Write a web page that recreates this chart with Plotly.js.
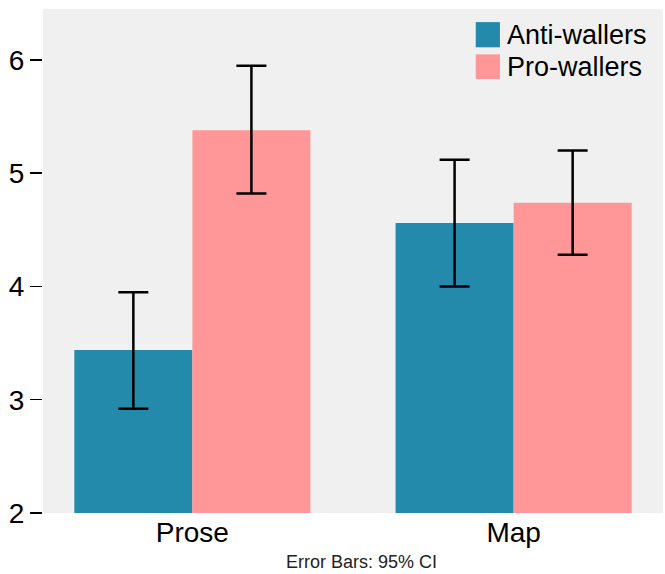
<!DOCTYPE html>
<html>
<head>
<meta charset="utf-8">
<script src="https://cdn.plot.ly/plotly-3.0.1.min.js"></script>
<style>
html,body{margin:0;padding:0;background:#fff;}
#chart{width:665px;height:574px;}
</style>
</head>
<body>
<div id="chart"></div>
<script>
var categories = ["Prose", "Map"];
var seriesNames = ["Anti-wallers", "Pro-wallers"];
var antiMeans = [3.44, 4.56];
var antiUpper = [3.95, 5.12];
var antiLower = [2.92, 4.00];
var proMeans = [5.38, 4.74];
var proUpper = [5.95, 5.20];
var proLower = [4.82, 4.28];
var yTicks = [2, 3, 4, 5, 6];
var colors = ["#248AAB", "#FF9798"];
var footnote = "Error Bars: 95% CI";

function plus(m, u){ return m.map(function(v,i){ return u[i]-v; }); }
function minus(m, l){ return m.map(function(v,i){ return v-l[i]; }); }

function barTrace(name, means, up, lo, color){
  return {
    type: "bar",
    name: name,
    x: categories,
    y: means,
    marker: {color: color, line: {width: 0}},
    error_y: {
      type: "data", symmetric: false,
      array: plus(means, up), arrayminus: minus(means, lo),
      color: "#000", thickness: 2.5, width: 15
    },
    showlegend: false,
    hoverinfo: "skip"
  };
}

var data = [
  barTrace(seriesNames[0], antiMeans, antiUpper, antiLower, colors[0]),
  barTrace(seriesNames[1], proMeans, proUpper, proLower, colors[1])
];

var font = "'Liberation Sans', Arial, sans-serif";

var shapes = [
  {type:"rect", xref:"paper", yref:"paper", x0:0.698, x1:0.737, y0:0.924, y1:0.974, fillcolor:colors[0], line:{width:0}},
  {type:"rect", xref:"paper", yref:"paper", x0:0.698, x1:0.737, y0:0.861, y1:0.910, fillcolor:colors[1], line:{width:0}}
];
var annotations = [
  {xref:"paper", yref:"paper", x:0.745, y:0.948, xanchor:"left", yanchor:"middle", text:seriesNames[0], showarrow:false, font:{family:font, size:27, color:"#000"}},
  {xref:"paper", yref:"paper", x:0.745, y:0.884, xanchor:"left", yanchor:"middle", text:seriesNames[1], showarrow:false, font:{family:font, size:27, color:"#000"}},
  {xref:"paper", yref:"paper", x:0.513, y:-0.097, xanchor:"center", yanchor:"middle", borderpad:0, text:footnote, showarrow:false, font:{family:font, size:18, color:"#222"}}
];

var layout = {
  width: 665, height: 574,
  margin: {l:43, r:2, t:9, b:61, pad:0},
  paper_bgcolor: "#ffffff",
  plot_bgcolor: "#F0F0F0",
  barmode: "group",
  bargap: 0.265,
  bargroupgap: 0,
  showlegend: false,
  font: {family: font, color: "#000"},
  xaxis: {
    type: "category",
    range: [-0.465, 1.465],
    showgrid: false, zeroline: false, showline: false,
    ticks: "", tickfont: {family: font, size: 28, color: "#000"},
    fixedrange: true
  },
  yaxis: {
    range: [2, 6.45],
    tickvals: yTicks,
    ticktext: yTicks.map(String),
    showgrid: false, zeroline: false, showline: false,
    ticks: "outside", ticklen: 12, tickwidth: 1.5, tickcolor: "#000",
    tickfont: {family: font, size: 28, color: "#000"},
    fixedrange: true
  },
  shapes: shapes,
  annotations: annotations
};

Plotly.newPlot("chart", data, layout, {displayModeBar: false, staticPlot: true});
</script>
</body>
</html>
